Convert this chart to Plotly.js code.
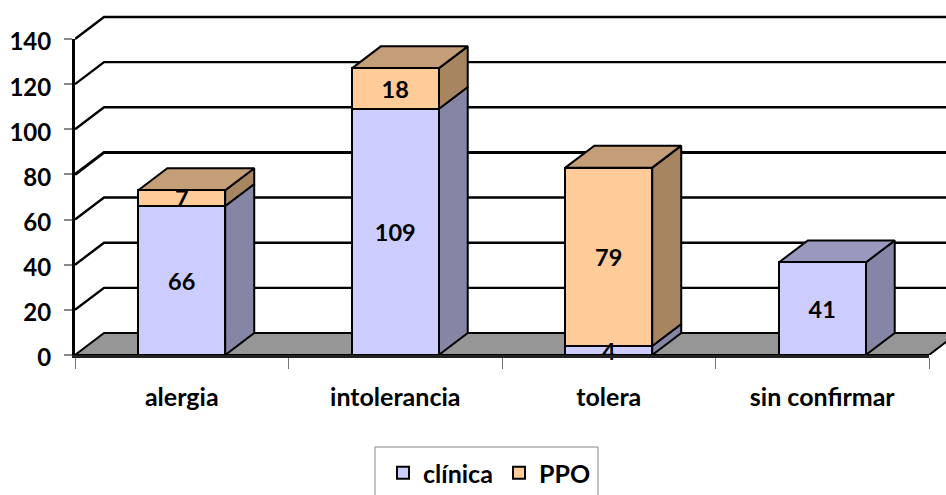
<!DOCTYPE html>
<html><head><meta charset="utf-8">
<script src="https://cdn.plot.ly/plotly-3.0.1.min.js"></script>
<style>html,body{margin:0;padding:0;background:#fff;overflow:hidden}</style>
</head><body><div id="chart" style="width:946px;height:495px"></div>
<script>
const categories = ['alergia','intolerancia','tolera','sin confirmar'];
const clinica = [66,109,4,41];
const ppo = [7,18,79,null];
const yTicks = [0,20,40,60,80,100,120,140];

const BAR_W = 0.407, DX = 0.136, DY = 9.75, LABEL_NUDGE = 1.5;
const XMIN = -0.5, XMAX = 3.5;
// plot frame: outer (wall + depth) frame and the inner (front) frame
const L=75, R=946, T=5, B=355, FRONT_R=929, FRONT_T=39;
const outerW=R-L, outerH=B-T;
const pxCat=(FRONT_R-L)/(XMAX-XMIN), pxVal=(B-FRONT_T)/140;
const font = (size)=>({family:'Lato, Carlito, sans-serif', size:size, color:'#000', weight:700});
const palette = {
  clinica:{front:'#CCCCFF', side:'#8585A6', top:'#9999BF'},
  ppo:{front:'#FFCC99', side:'#A68560', top:'#C49E78'}
};
const px=(X)=>(X-L)/outerW, py=(Y)=>(B-Y)/outerH;

function poly(xs, ys, fill, lw){
  return {type:'scatter', mode:'lines', x:xs.concat(xs[0]), y:ys.concat(ys[0]), fill:'toself',
    fillcolor:fill, line:{color:'#000',width:lw===undefined?2:lw}, hoverinfo:'skip',
    showlegend:false, xaxis:'x', yaxis:'y'};
}
const traces = [];
// floor
traces.push(poly([XMIN,XMIN+DX,XMAX+DX,XMAX],[0,DY,DY,0],'#969696',2));
// gridlines on wall
yTicks.slice(1).forEach(v=>{
  traces.push({type:'scatter',mode:'lines',x:[XMIN,XMIN+DX,XMAX+DX],y:[v,v+DY,v+DY],
    line:{color:'#000',width:v===80?3:2.4},hoverinfo:'skip',showlegend:false,xaxis:'x',yaxis:'y'});
});
// 3D faces from the stacked values
categories.forEach((c,i)=>{
  const xl=i-BAR_W/2, xr=i+BAR_W/2;
  let base=0, topColor=null;
  [[clinica[i],palette.clinica],[ppo[i],palette.ppo]].forEach(([v,p])=>{
    if(!v) return;
    const t=base+v;
    traces.push(poly([xr,xr+DX,xr+DX,xr],[base,base+DY,t+DY,t],p.side));
    base=t; topColor=p.top;
  });
  traces.push(poly([xl,xl+DX,xr+DX,xr],[base,base+DY,base+DY,base],topColor));
});
// bars, in their own subplot drawn on top
function bar(name,vals,col){
  return {type:'bar',name:name,x:categories,y:vals,width:BAR_W,xaxis:'x2',yaxis:'y2',
    marker:{color:col,line:{color:'#000',width:2}},hoverinfo:'x+y+name'};
}
traces.push(bar('clínica',clinica,palette.clinica.front));
traces.push(bar('PPO',ppo,palette.ppo.front));
// value labels, drawn above both stacks
function labels(vals,bases){
  const idx=vals.map((v,i)=>v===null?-1:i).filter(i=>i>=0);
  return {type:'scatter',mode:'text',x:idx.map(i=>categories[i]),y:idx.map(i=>bases[i]+vals[i]/2-LABEL_NUDGE),
    text:idx.map(i=>String(vals[i])),textposition:'middle center',textfont:font(23.5),cliponaxis:false,
    hoverinfo:'skip',showlegend:false,xaxis:'x2',yaxis:'y2'};
}
traces.push(labels(clinica,clinica.map(()=>0)));
traces.push(labels(ppo,clinica));

const layout = {
  width:946,height:495,paper_bgcolor:'#fff',plot_bgcolor:'rgba(0,0,0,0)',
  margin:{l:L,r:946-R,t:T,b:495-B,autoexpand:false},
  barmode:'stack',font:font(24),showlegend:true,
  xaxis:{type:'linear',domain:[0,1],range:[XMIN,XMIN+outerW/pxCat],visible:false,fixedrange:true},
  yaxis:{domain:[0,1],range:[0,outerH/pxVal],visible:false,fixedrange:true},
  xaxis2:{type:'category',domain:[0,px(FRONT_R)],anchor:'y2',range:[XMIN,XMAX],tickson:'boundaries',ticks:'outside',ticklen:11,
    tickwidth:1,tickcolor:'#777',showgrid:false,zeroline:false,showline:true,linecolor:'#222',linewidth:3,
    tickfont:font(25),ticklabelstandoff:18,fixedrange:true},
  yaxis2:{domain:[0,py(FRONT_T)],anchor:'x2',range:[0,140],tickvals:yTicks,ticks:'outside',ticklen:8,tickwidth:1.5,tickcolor:'#888',
    showgrid:false,zeroline:false,showline:true,linecolor:'#000',linewidth:3,tickfont:font(24),ticklabelstandoff:8,ticklabelshift:3,fixedrange:true},
  legend:{orientation:'h',x:px(383),xanchor:'left',y:py(473),yanchor:'middle',entrywidth:71,entrywidthmode:'pixels',
    bgcolor:'rgba(0,0,0,0)',font:font(25),traceorder:'normal',itemclick:false,itemdoubleclick:false},
  shapes:[{type:'rect',xref:'paper',yref:'paper',x0:px(375),x1:px(598),y0:py(447),y1:py(520),
    line:{color:'#888',width:1},fillcolor:'rgba(0,0,0,0)'}]
};
Plotly.newPlot('chart',traces,layout,{displayModeBar:false,responsive:false});
</script></body></html>
